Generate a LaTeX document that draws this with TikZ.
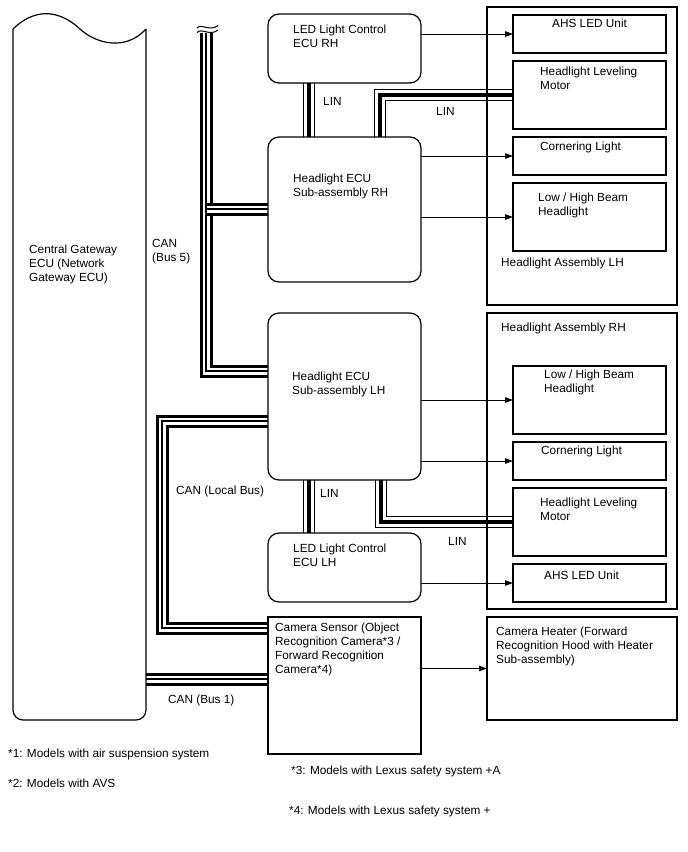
\documentclass[tikz,border=0pt]{standalone}
\usepackage{fontspec}
\setmainfont{Liberation Sans}
\usetikzlibrary{arrows.meta,backgrounds}
\begin{document}
\begin{tikzpicture}[x=1pt,y=-1pt]
\tikzset{
 box/.style={draw, line width=1.2pt, inner sep=0pt, outer sep=0pt, anchor=north west},
 ecu/.style={box, rounded corners=11pt},
 lbl/.style={anchor=north west, inner sep=0pt, align=left, font=\fontsize{11.8}{14}\selectfont},
 arr/.style={line width=1pt, -{Triangle[length=8pt,width=5.5pt]}},
 canbus/.style={line width=13pt, line join=miter, draw=black,
   postaction={draw=white, line width=7pt, line join=miter},
   postaction={draw=black, line width=1.2pt, line join=miter}},
 linbus/.style={line width=12pt, line join=miter, draw=black,
   postaction={draw=white, line width=9.4pt, line join=miter},
   postaction={draw=black, line width=3.5pt, line join=miter}},
}
\useasboundingbox (0,0) rectangle (688,852);

% Central gateway
\draw[line width=1.2pt, rounded corners=10pt] (13,29) -- (13,720) -- (146,720) -- (146,29);
\draw[line width=1.2pt] (13,29) .. controls (40,3) and (65,15) .. (80,29) .. controls (95,43) and (125,52) .. (146,29);
\coordinate (gwr) at (146,679);
\node[lbl] (gwtext) at (29,245) {Central Gateway\\ECU (Network\\Gateway ECU)};

% ECUs
\node[ecu, minimum width=153pt, minimum height=69pt] (ledrh) at (268,14) {};
\node[ecu, minimum width=153pt, minimum height=145pt] (ecurh) at (268,137) {};
\node[ecu, minimum width=153pt, minimum height=167pt] (eculh) at (268,313) {};
\node[ecu, minimum width=153pt, minimum height=69pt] (ledlh) at (268,533) {};
\node[box, minimum width=153pt, minimum height=137pt] (cam) at (268,617) {};

% Assemblies
\node[box, minimum width=190pt, minimum height=298pt] (asmlh) at (487,7) {};
\node[box, minimum width=190pt, minimum height=296pt] (asmrh) at (487,313) {};
\node[box, minimum width=190pt, minimum height=103pt] (heater) at (487,617) {};

\node[box, minimum width=153pt, minimum height=38pt] (ahsL) at (513,15) {};
\node[box, minimum width=153pt, minimum height=68pt] (levL) at (513,61) {};
\node[box, minimum width=153pt, minimum height=38pt] (corL) at (513,137) {};
\node[box, minimum width=153pt, minimum height=68pt] (beamL) at (513,183) {};
\node[box, minimum width=153pt, minimum height=68pt] (beamR) at (513,366) {};
\node[box, minimum width=153pt, minimum height=38pt] (corR) at (513,442) {};
\node[box, minimum width=153pt, minimum height=68pt] (levR) at (513,488) {};
\node[box, minimum width=153pt, minimum height=38pt] (ahsR) at (513,564) {};

% Labels
\node[lbl] (t1) at (293,25) {LED Light Control\\ECU RH};
\node[lbl] (t2) at (293,174) {Headlight ECU\\Sub-assembly RH};
\node[lbl] (t3) at (292,372) {Headlight ECU\\Sub-assembly LH};
\node[lbl] (t4) at (293,544) {LED Light Control\\ECU LH};
\node[lbl] (t5) at (275,623) {Camera Sensor (Object\\Recognition Camera*3 /\\Forward Recognition\\Camera*4)};
\node[lbl] (t6) at (496,627) {Camera Heater (Forward\\Recognition Hood with Heater\\Sub-assembly)};
\node[lbl] (t7) at (501,258) {Headlight Assembly LH};
\node[lbl] (t8) at (501,323) {Headlight Assembly RH};
\node[lbl] (t9) at (552,19) {AHS LED Unit};
\node[lbl] (t10) at (540,67) {Headlight Leveling\\Motor};
\node[lbl] (t11) at (540,142) {Cornering Light};
\node[lbl] (t12) at (538,193) {Low / High Beam\\Headlight};
\node[lbl] (t13) at (544,370) {Low / High Beam\\Headlight};
\node[lbl] (t14) at (541,446) {Cornering Light};
\node[lbl] (t15) at (540,498) {Headlight Leveling\\Motor};
\node[lbl] (t16) at (544,571) {AHS LED Unit};
\node[lbl] (c1) at (152,239) {CAN\\(Bus 5)};
\node[lbl] (c2) at (176,486) {CAN (Local Bus)};
\node[lbl] (c3) at (168,695) {CAN (Bus 1)};
\node[lbl] (l1) at (323,97) {LIN};
\node[lbl] (l2) at (436,107) {LIN};
\node[lbl] (l3) at (320,489) {LIN};
\node[lbl] (l4) at (448,537) {LIN};
\node[lbl] (f1) at (8,749) {*1: Models with air suspension system};
\node[lbl] (f2) at (8,779) {*2: Models with AVS};
\node[lbl] (f3) at (291,766) {*3: Models with Lexus safety system +A};
\node[lbl] (f4) at (289,806) {*4: Models with Lexus safety system +};

% Arrows
\draw[arr] (ahsL.west -| ledrh.east) -- (ahsL.west);
\draw[arr] (corL.west -| ecurh.east) -- (corL.west);
\draw[arr] (beamL.west -| ecurh.east) -- (beamL.west);
\draw[arr] (beamR.west -| eculh.east) -- (beamR.west);
\draw[arr] (corR.west -| eculh.east) -- (corR.west);
\draw[arr] (ahsR.west -| ledlh.east) -- (ahsR.west);
\draw[arr] (heater.west -| cam.east) -- (heater.west);

% Bus break symbol
\coordinate (b5top) at (206,33);
\draw[line width=1pt] (197,28) .. controls (201,23) and (210,32) .. (218,25.5);
\draw[line width=1pt] (197,32.5) .. controls (201,27.5) and (210,36.5) .. (218,30);

\begin{pgfonlayer}{background}
\draw[canbus] (b5top) |- (eculh.west |- 0,371);
\draw[canbus] ([xshift=0.6pt]b5top |- 0,209) -- (ecurh.west |- 0,209);
\draw[canbus] (eculh.west |- 0,421) -| (162,628) -- (cam.west |- 0,628);
\draw[canbus] (gwr) -- (cam.west |- gwr);
\draw[linbus] (ledrh.south -| 309,0) -- (ecurh.north -| 309,0);
\draw[linbus] (ecurh.north -| 380,0) |- (levL.west);
\draw[linbus] (eculh.south -| 309,0) -- (ledlh.north -| 309,0);
\draw[linbus] (eculh.south -| 381,0) |- (levR.west);
\end{pgfonlayer}
\end{tikzpicture}
\end{document}
